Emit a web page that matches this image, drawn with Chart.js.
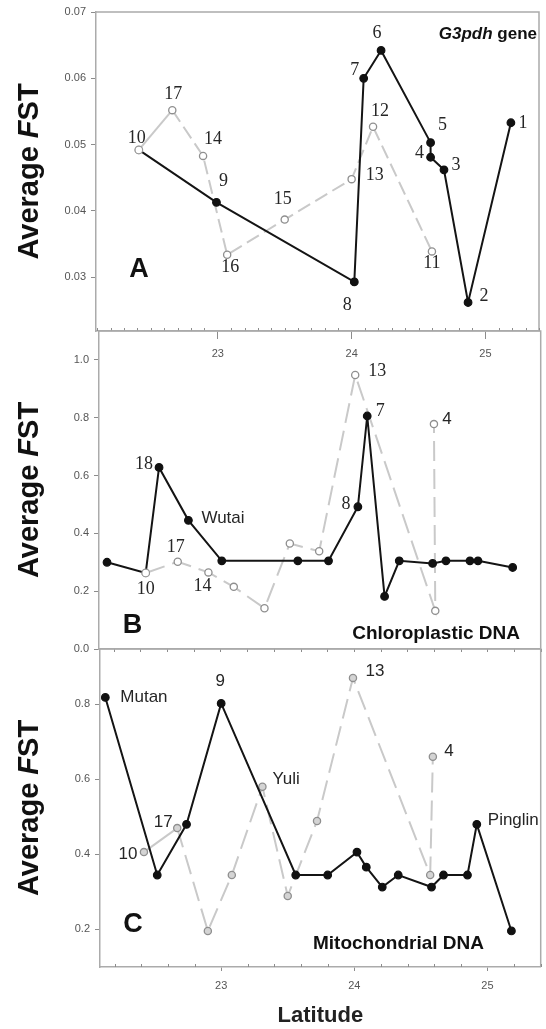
<!DOCTYPE html>
<html>
<head>
<meta charset="utf-8">
<script src="https://cdn.jsdelivr.net/npm/chart.js@4/dist/chart.umd.min.js"></script>
<style>
  html, body { margin: 0; padding: 0; background: #fff; }
  #wrap { position: relative; width: 546px; height: 1029px; }
  #wrap canvas { position: absolute; left: 0; top: 0; }
</style>
</head>
<body>
<div id="wrap">
  <canvas id="chartA" width="546" height="1029"></canvas>
  <canvas id="chartB" width="546" height="1029"></canvas>
  <canvas id="chartC" width="546" height="1029"></canvas>
</div>
<script>
// latitude ticks shared by all three panels
var latTicks = [23, 24, 25];

// A - G3pdh gene
var aBlackLat = [22.41, 22.99, 24.02, 24.09, 24.22, 24.59, 24.59, 24.69, 24.87, 25.19];
var aBlackFst = [0.0492, 0.0413, 0.0293, 0.0600, 0.0642, 0.0503, 0.0481, 0.0462, 0.0262, 0.0533];
var aBlackPop = ['10', '9', '8', '7', '6', '5', '4', '3', '2', '1'];
var aGreyLat = [22.41, 22.66, 22.89, 23.07, 23.50, 24.00, 24.16, 24.60];
var aGreyFst = [0.0492, 0.0552, 0.0483, 0.0334, 0.0387, 0.0448, 0.0527, 0.0339];
var aGreyPop = ['10', '17', '14', '16', '15', '13', '12', '11'];
var aFstTicks = [0.03, 0.04, 0.05, 0.06, 0.07];

// B - chloroplastic DNA
var bBlackLat = [22.15, 22.44, 22.54, 22.76, 23.01, 23.58, 23.81, 24.03, 24.10, 24.23, 24.34, 24.59, 24.69, 24.87, 24.93, 25.19];
var bBlackFst = [0.300, 0.263, 0.628, 0.445, 0.305, 0.305, 0.305, 0.492, 0.806, 0.182, 0.305, 0.296, 0.305, 0.305, 0.305, 0.282];
var bBlackPop = ['', '10', '18', 'Wutai', '', '', '', '8', '7', '', '', '', '', '', '', ''];
var bGreyLat = [22.44, 22.68, 22.91, 23.10, 23.33, 23.52, 23.74, 24.01, 24.61, 24.60];
var bGreyFst = [0.263, 0.302, 0.265, 0.215, 0.141, 0.365, 0.338, 0.948, 0.132, 0.778];
var bGreyPop = ['10', '17', '14', '', '', '', '', '13', '', '4'];
var bFstTicks = [0.0, 0.2, 0.4, 0.6, 0.8, 1.0];

// C - mitochondrial DNA
var cBlackLat = [22.13, 22.52, 22.74, 23.00, 23.56, 23.80, 24.02, 24.09, 24.21, 24.33, 24.58, 24.67, 24.85, 24.92, 25.18];
var cBlackFst = [0.818, 0.345, 0.480, 0.802, 0.345, 0.345, 0.406, 0.366, 0.313, 0.345, 0.313, 0.345, 0.345, 0.480, 0.196];
var cBlackPop = ['Mutan', '', '', '9', '', '', '', '', '', '', '', '', '', 'Pinglin', ''];
var cGreyLat = [22.42, 22.67, 22.90, 23.08, 23.31, 23.50, 23.72, 23.99, 24.57, 24.59];
var cGreyFst = [0.406, 0.470, 0.196, 0.345, 0.580, 0.289, 0.489, 0.870, 0.345, 0.660];
var cGreyPop = ['10', '17', '', '', 'Yuli', '', '', '13', '', '4'];
var cFstTicks = [0.2, 0.4, 0.6, 0.8];

// where each population number sits next to its point: [dx, dy, align, family]
var aBlackTagAt = [null, [7, -21], [-7, 23], [-9, -8], [-4, -17], [12, -17], [-11, -4], [12, -5], [16, -6], [12, 1]];
var aGreyTagAt = [[-2, -12], [1, -16], [10, -17], [3, 13], [-2, -20], [23, -4], [7, -15], [0, 12]];
var bBlackTagAt = [null, null, [-15, -3], [13, -2, 'left'], null, null, null, [-12, -3], [13, -5], null, null, null, null, null, null, null];
var bGreyTagAt = [[0, 16], [-2, -14], [-6, 14], null, null, null, null, [22, -4], null, [13, -5, 'center', 'sans']];
var cBlackTagAt = [[15, 0, 'left'], null, null, [-1, -22], null, null, null, null, null, null, null, null, null, [11, -4, 'left'], null];
var cGreyTagAt = [[-16, 2], [-14, -6], null, null, [10, -7, 'left'], null, null, [22, -7], null, [16, -5]];

var SANS = '"Liberation Sans", Arial, Helvetica, sans-serif';
var SERIF = '"Liberation Serif", "Times New Roman", serif';
Chart.defaults.font.family = SANS;

function pts(lat, fst) {
  return lat.map(function (x, i) { return { x: x, y: fst[i] }; });
}

function blackSet(lat, fst, pop, tagAt, openAt, tagFamily) {
  // a point shared with the grey series keeps the open marker
  var fill = lat.map(function (v, i) { return i === openAt ? '#fff' : '#111'; });
  var edge = lat.map(function (v, i) { return i === openAt ? '#999' : '#111'; });
  return {
    data: pts(lat, fst),
    pops: pop, tagAt: tagAt, tagFamily: tagFamily,
    borderColor: '#141414', borderWidth: 2,
    pointRadius: 3.8, pointBorderWidth: 1.2,
    pointBackgroundColor: fill, pointBorderColor: edge,
    order: 0
  };
}

function greySet(lat, fst, pop, tagAt, dash, solidFirst, dotFill, tagFamily) {
  return {
    data: pts(lat, fst),
    pops: pop, tagAt: tagAt, tagFamily: tagFamily,
    borderColor: '#c9c9c9', borderWidth: 2, borderDash: dash,
    segment: {
      borderDash: function (ctx) { return (solidFirst && ctx.p0DataIndex === 0) ? [] : undefined; }
    },
    pointRadius: 3.6, pointBorderWidth: 1.3,
    pointBackgroundColor: dotFill, pointBorderColor: '#8f8f8f',
    order: 1
  };
}

var framePlugin = {
  id: 'frame',
  afterDraw: function (chart, args, o) {
    var ctx = chart.ctx, a = chart.chartArea, xs = chart.scales.x;
    ctx.save();
    // top and right edges of the box
    ctx.strokeStyle = '#ababab';
    ctx.lineWidth = 1.5;
    ctx.beginPath();
    ctx.moveTo(a.left, a.top);
    ctx.lineTo(a.right, a.top);
    ctx.lineTo(a.right, a.bottom);
    ctx.stroke();

    // small latitude ticks on the bottom edge
    ctx.strokeStyle = '#8c8c8c';
    ctx.lineWidth = 1;
    for (var k = Math.ceil(xs.min / o.minorStep - 1e-6); k * o.minorStep <= xs.max + 1e-6; k++) {
      var v = k * o.minorStep;
      if (o.skipMajor && Math.abs(v - Math.round(v)) < 1e-6) continue;
      var px = Math.round(xs.getPixelForValue(v)) + 0.5;
      ctx.beginPath();
      ctx.moveTo(px, a.bottom);
      ctx.lineTo(px, a.bottom + o.minorDir * o.minorLen);
      ctx.stroke();
    }

    // y title: Average FST with an italic F
    var parts = [['Average ', 'bold'], ['F', 'italic bold'], ['ST', 'bold']];
    ctx.fillStyle = '#111';
    ctx.textBaseline = 'alphabetic';
    ctx.textAlign = 'left';
    ctx.translate(38, (a.top + a.bottom) / 2);
    ctx.rotate(-Math.PI / 2);
    var total = 0;
    parts.forEach(function (p) { ctx.font = p[1] + ' 29px ' + SANS; total += ctx.measureText(p[0]).width; });
    var tx = -total / 2;
    parts.forEach(function (p) {
      ctx.font = p[1] + ' 29px ' + SANS;
      ctx.fillText(p[0], tx, 0);
      tx += ctx.measureText(p[0]).width;
    });
    ctx.setTransform(1, 0, 0, 1, 0, 0);

    // panel letter
    ctx.font = 'bold 27px ' + SANS;
    ctx.textAlign = 'center';
    ctx.fillText(o.letter, o.letterAt[0], o.letterAt[1]);

    // caption, right aligned
    var w = 0;
    o.caption.forEach(function (p) { ctx.font = p[1] + ' ' + o.captionSize + 'px ' + SANS; w += ctx.measureText(p[0]).width; });
    var cx = o.captionAt[0] - w;
    ctx.textAlign = 'left';
    o.caption.forEach(function (p) {
      ctx.font = p[1] + ' ' + o.captionSize + 'px ' + SANS;
      ctx.fillText(p[0], cx, o.captionAt[1]);
      cx += ctx.measureText(p[0]).width;
    });
    ctx.restore();
  }
};

var tagPlugin = {
  id: 'tags',
  afterDatasetsDraw: function (chart) {
    var ctx = chart.ctx;
    ctx.save();
    ctx.fillStyle = '#262626';
    ctx.textBaseline = 'middle';
    chart.data.datasets.forEach(function (ds, di) {
      var meta = chart.getDatasetMeta(di);
      ds.pops.forEach(function (pop, i) {
        var at = ds.tagAt[i];
        if (!pop || !at) return;
        var el = meta.data[i];
        var isName = /[a-z]/i.test(pop);
        var fam = isName ? SANS : ((at[3] === 'sans' || ds.tagFamily === 'sans') ? SANS : SERIF);
        ctx.font = (isName ? '17px ' : (fam === SERIF ? '18px ' : '17px ')) + fam;
        ctx.textAlign = at[2] || 'center';
        ctx.fillText(pop, el.x + at[0], el.y + at[1]);
      });
    });
    ctx.restore();
  }
};

function makePanel(id, p) {
  return new Chart(document.getElementById(id), {
    type: 'line',
    data: { datasets: p.datasets },
    options: {
      responsive: false,
      animation: false,
      devicePixelRatio: 1,
      layout: {
        padding: { left: 0, top: p.area.top, right: 546 - p.area.right, bottom: 1029 - p.area.bottom - p.xHeight }
      },
      plugins: {
        legend: { display: false },
        tooltip: { enabled: false },
        frame: p.frame
      },
      scales: {
        x: {
          type: 'linear',
          min: 22.09,
          max: 25.40,
          afterBuildTicks: function (s) { s.ticks = latTicks.map(function (v) { return { value: v }; }); },
          afterFit: function (s) { s.height = p.xHeight; },
          grid: { drawOnChartArea: false, drawTicks: p.showLat, tickLength: p.tickLen, color: '#8c8c8c', tickWidth: 1 },
          border: { color: '#ababab', width: 1.5 },
          ticks: { display: p.showLat, color: '#555', font: { size: 11 }, padding: 8, maxRotation: 0 },
          title: p.xTitle
        },
        y: {
          min: p.yMin,
          max: p.yMax,
          afterBuildTicks: function (s) { s.ticks = p.yTicks.map(function (v) { return { value: v }; }); },
          afterFit: function (s) { s.width = p.area.left; },
          grid: { drawOnChartArea: false, tickLength: 5, color: '#8c8c8c' },
          border: { color: '#ababab', width: 1.5 },
          ticks: {
            color: '#555', font: { size: 11 }, padding: 5,
            callback: function (v) { return Number(v).toFixed(p.digits); }
          }
        }
      }
    },
    plugins: [framePlugin, tagPlugin]
  });
}

makePanel('chartA', {
  area: { left: 96, right: 539, top: 12, bottom: 331 },
  yMin: 0.0219, yMax: 0.07, yTicks: aFstTicks, digits: 2,
  xHeight: 30, showLat: true, tickLen: 8, xTitle: { display: false },
  datasets: [
    blackSet(aBlackLat, aBlackFst, aBlackPop, aBlackTagAt, 0, 'serif'),
    greySet(aGreyLat, aGreyFst, aGreyPop, aGreyTagAt, [14, 6], true, '#fff', 'serif')
  ],
  frame: {
    minorStep: 0.1, minorDir: -1, minorLen: 3, skipMajor: true,
    letter: 'A', letterAt: [139, 277],
    caption: [['G3pdh', 'italic bold'], [' gene', 'bold']], captionSize: 17, captionAt: [537, 39]
  }
});

makePanel('chartB', {
  area: { left: 99, right: 542, top: 331, bottom: 649 },
  yMin: 0, yMax: 1.10, yTicks: bFstTicks, digits: 1,
  xHeight: 10, showLat: false, tickLen: 0, xTitle: { display: false },
  datasets: [
    blackSet(bBlackLat, bBlackFst, bBlackPop, bBlackTagAt, 1, 'serif'),
    greySet(bGreyLat, bGreyFst, bGreyPop, bGreyTagAt, [20, 8], false, '#fff', 'serif')
  ],
  frame: {
    minorStep: 0.2, minorDir: 1, minorLen: 3, skipMajor: false,
    letter: 'B', letterAt: [132.5, 633],
    caption: [['Chloroplastic DNA', 'bold']], captionSize: 19, captionAt: [520, 639]
  }
});

makePanel('chartC', {
  area: { left: 100, right: 542, top: 649, bottom: 967 },
  yMin: 0.1, yMax: 0.947, yTicks: cFstTicks, digits: 1,
  xHeight: 62, showLat: true, tickLen: 4,
  xTitle: { display: true, text: 'Latitude', color: '#222', font: { size: 22, weight: 'bold' }, padding: 0 },
  datasets: [
    blackSet(cBlackLat, cBlackFst, cBlackPop, cBlackTagAt, -1, 'sans'),
    greySet(cGreyLat, cGreyFst, cGreyPop, cGreyTagAt, [20, 8], true, '#d4d4d4', 'sans')
  ],
  frame: {
    minorStep: 0.2, minorDir: -1, minorLen: 3, skipMajor: true,
    letter: 'C', letterAt: [133, 932],
    caption: [['Mitochondrial DNA', 'bold']], captionSize: 19, captionAt: [484, 949]
  }
});
</script>
</body>
</html>
